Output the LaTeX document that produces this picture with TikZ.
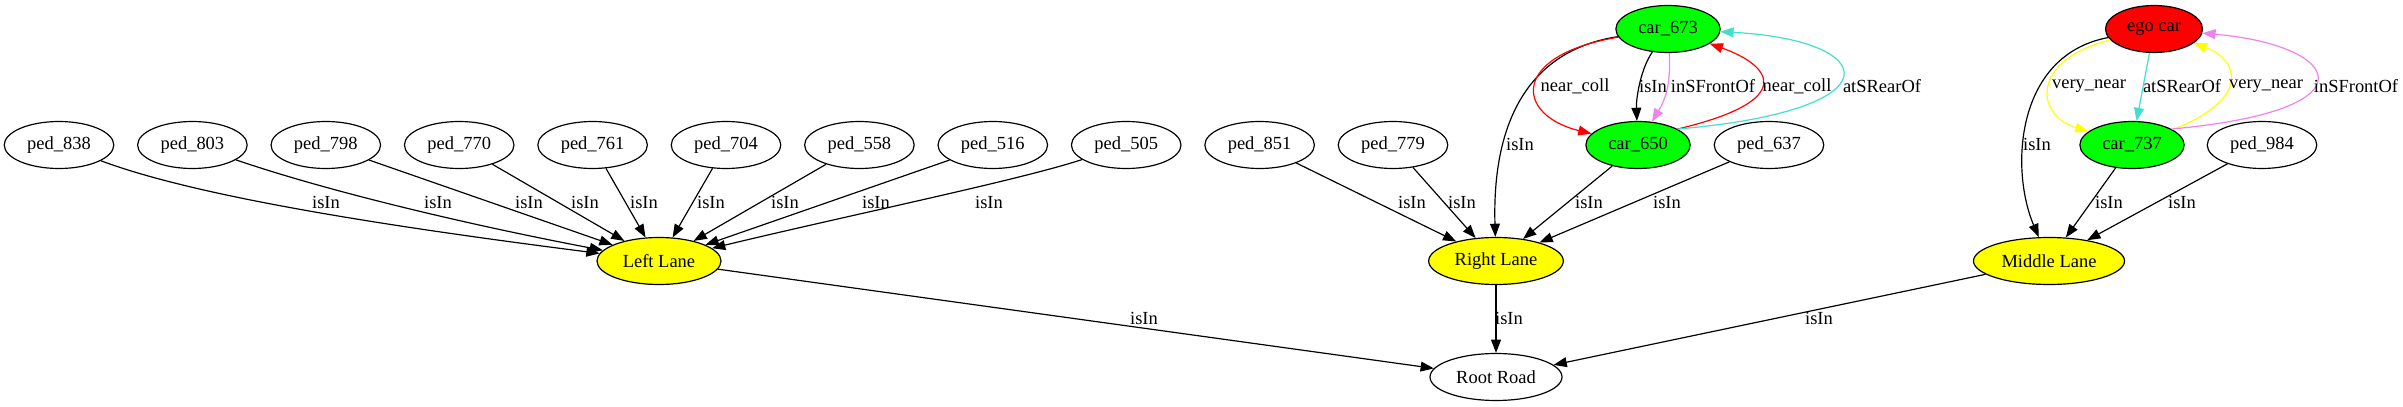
\documentclass[tikz,border=0pt]{standalone}
\usepackage{fontspec}
\setmainfont{Liberation Serif}
\usetikzlibrary{shapes.geometric,arrows.meta}
\definecolor{gcol}{HTML}{00FF00}
\definecolor{rcol}{HTML}{FF0000}
\definecolor{ycol}{HTML}{FFFF00}
\definecolor{tcol}{HTML}{40E0D0}
\definecolor{vcol}{HTML}{EE82EE}
\tikzset{
  base/.style={ellipse, draw=black, line width=0.9pt, minimum height=35.6pt, inner sep=0pt, font=\fontsize{14pt}{16pt}\selectfont},
  ped/.style={base, minimum width=83pt},
  car/.style={base, fill=gcol, minimum width=79pt},
  egocar/.style={base, fill=rcol, minimum width=73.5pt},
  lane/.style={base, fill=ycol},
  plain/.style={base, minimum width=100pt},
  edge/.style={line width=0.9pt, -{Triangle[length=10pt,width=7.5pt]}},
  lbl/.style={inner sep=0pt, font=\fontsize{14pt}{16pt}\selectfont},
}
\begin{document}
\begin{tikzpicture}[x=0.7576pt, y=-0.7576pt]
\fill[white] (0,0) rectangle (2403,407);
\useasboundingbox (0,0) rectangle (2403,407);
% nodes
\node[ped] (ped838) at (59,145) {ped\_838};
\node[ped] (ped803) at (192.4,145) {ped\_803};
\node[ped] (ped798) at (325.8,145) {ped\_798};
\node[ped] (ped770) at (459.2,145) {ped\_770};
\node[ped] (ped761) at (592.6,145) {ped\_761};
\node[ped] (ped704) at (726,145) {ped\_704};
\node[ped] (ped558) at (859.4,145) {ped\_558};
\node[ped] (ped516) at (992.8,145) {ped\_516};
\node[ped] (ped505) at (1126.2,145) {ped\_505};
\node[ped] (ped851) at (1259.6,145) {ped\_851};
\node[ped] (ped779) at (1393,145) {ped\_779};
\node[car] (car650) at (1638,145) {car\_650};
\node[ped] (ped637) at (1769,145) {ped\_637};
\node[car] (car673) at (1668,29) {car\_673};
\node[egocar] (ego) at (2154,29) {ego car};
\node[car] (car737) at (2132,145) {car\_737};
\node[ped] (ped984) at (2262,145) {ped\_984};
\node[lane, minimum width=94pt] (LL) at (659,261) {Left Lane};
\node[lane, minimum width=102pt] (RL) at (1496,261) {Right Lane};
\node[lane, minimum width=114.4pt] (ML) at (2049,261) {Middle Lane};
\node[plain] (RR) at (1496,377) {Root Road};
% left lane edges
\draw[edge] (ped838) .. controls (200,198) and (400,228) .. (LL);
\draw[edge] (ped803) .. controls (330,192) and (470,225) .. (LL);
\draw[edge] (ped798) -- (LL);
\draw[edge] (ped770) -- (LL);
\draw[edge] (ped761) -- (LL);
\draw[edge] (ped704) -- (LL);
\draw[edge] (ped558) -- (LL);
\draw[edge] (ped516) -- (LL);
\draw[edge] (ped505) .. controls (1020,180) and (850,215) .. (LL);
% right lane edges
\draw[edge] (ped851) -- (RL);
\draw[edge] (ped779) -- (RL);
\draw[edge] (car650) -- (RL);
\draw[edge] (ped637) -- (RL);
\draw[edge] (car673) .. controls (1530,50) and (1492,120) .. (RL);
\draw[edge] (car673) .. controls (1640,70) and (1636,100) .. (car650);
\draw[edge, vcol] (car673) .. controls (1671,85) and (1665,100) .. (car650);
\draw[edge, rcol] (car673) .. controls (1510,55) and (1515,115) .. (car650);
\draw[edge, rcol] (car650.22) .. controls (1800,100) and (1770,65) .. (car673);
\draw[edge, tcol] (car650.22) .. controls (1900,110) and (1880,40) .. (car673);
% middle lane edges
\draw[edge] (ego) .. controls (2015,55) and (2010,170) .. (ML);
\draw[edge] (car737) -- (ML);
\draw[edge] (ped984) -- (ML);
\draw[edge, ycol] (ego) .. controls (2030,60) and (2035,115) .. (car737);
\draw[edge, tcol] (ego) -- (car737);
\draw[edge, ycol] (car737) .. controls (2250,100) and (2240,60) .. (ego);
\draw[edge, vcol] (car737.22) .. controls (2380,110) and (2340,45) .. (ego);
% root edges
\draw[edge] (LL) -- (RR);
\draw[edge] (RL) -- (RR);
\draw[edge] (ML) -- (RR);
% labels
\node[lbl] (l1) at (326,202) {isIn};
\node[lbl] (l2) at (438,202) {isIn};
\node[lbl] (l3) at (529,202) {isIn};
\node[lbl] (l4) at (585,202) {isIn};
\node[lbl] (l5) at (644,202) {isIn};
\node[lbl] (l6) at (711,202) {isIn};
\node[lbl] (l7) at (785,202) {isIn};
\node[lbl] (l8) at (876,202) {isIn};
\node[lbl] (l9) at (989,202) {isIn};
\node[lbl] (l10) at (1412,202) {isIn};
\node[lbl] (l11) at (1462,202) {isIn};
\node[lbl] (l12) at (1520,144) {isIn};
\node[lbl] (l13) at (1589,202) {isIn};
\node[lbl] (l14) at (1667,202) {isIn};
\node[lbl] (l15) at (1575,86) {near\_coll};
\node[lbl] (l16) at (1653,86) {isIn};
\node[lbl] (l17) at (1713,86) {inSFrontOf};
\node[lbl] (l18) at (1797,86) {near\_coll};
\node[lbl] (l19) at (1882,86) {atSRearOf};
\node[lbl] (l20) at (2037,144) {isIn};
\node[lbl] (l21) at (2089,86) {very\_near};
\node[lbl] (l22) at (2182,86) {atSRearOf};
\node[lbl] (l23) at (2266,86) {very\_near};
\node[lbl] (l24) at (2356,86) {inSFrontOf};
\node[lbl] (l25) at (2109,202) {isIn};
\node[lbl] (l26) at (2182,202) {isIn};
\node[lbl] (l27) at (1144,318) {isIn};
\node[lbl] (l28) at (1509,318) {isIn};
\node[lbl] (l29) at (1819,318) {isIn};
\end{tikzpicture}
\end{document}
